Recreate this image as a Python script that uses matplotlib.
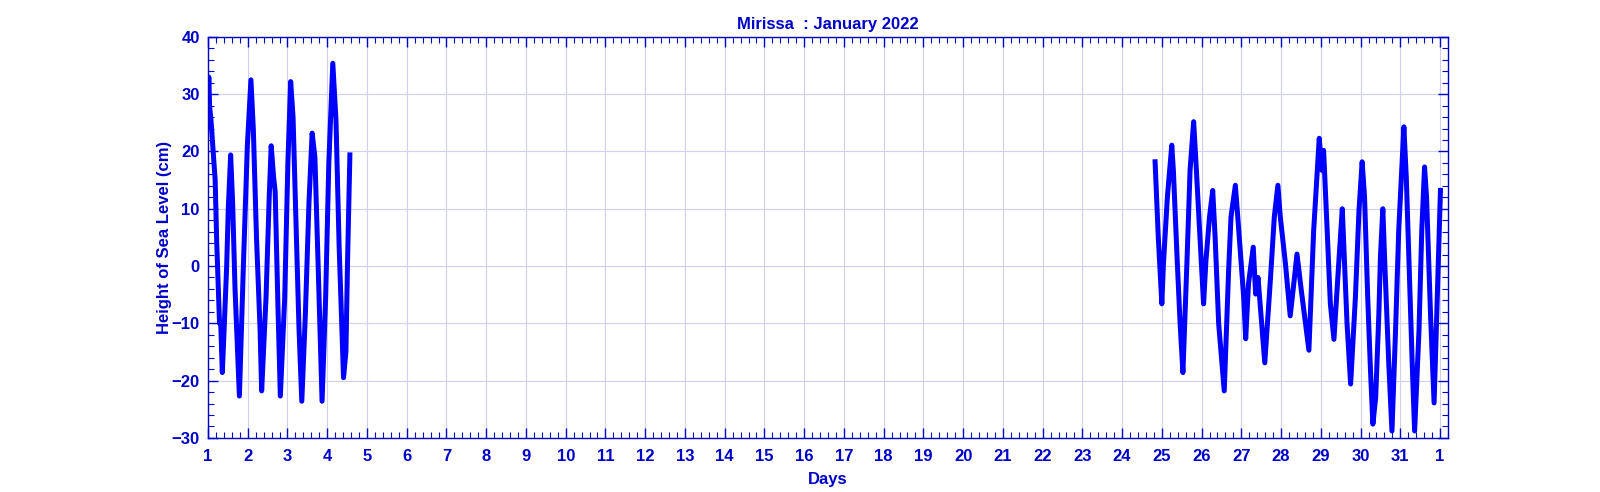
import matplotlib
matplotlib.use("Agg")
import matplotlib.pyplot as plt
from matplotlib.ticker import MultipleLocator

# sea level record, first part of the month (day of month, cm)
days_a = [1.00, 1.02, 1.04, 1.08, 1.18, 1.22, 1.26, 1.29, 1.32, 1.36,
          1.40, 1.47, 1.51, 1.57, 1.62, 1.68, 1.79, 1.89, 1.99, 2.08,
          2.14, 2.22, 2.31, 2.35, 2.46, 2.54, 2.59, 2.65, 2.69, 2.76,
          2.82, 2.93, 3.01, 3.08, 3.14, 3.21, 3.29, 3.36, 3.45, 3.54,
          3.62, 3.69, 3.77, 3.87, 3.96, 4.04, 4.14, 4.22, 4.30, 4.41,
          4.47, 4.51, 4.57]
level_a = [27, 33, 28, 25, 15, 4, -4, -10, -10, -18.6,
           -12, 0, 10, 19.4, 11, -4, -22.7, 0, 21, 32.5,
           24, 5, -11, -21.8, -5.5, 12, 21, 15.6, 13, -7,
           -22.7, -5.5, 18, 32.2, 26, 8.6, -11, -23.6, -8.4, 11,
           23.2, 19, 0.4, -23.6, -5.5, 18, 35.4, 25.5, 3.3, -19.5,
           -15, 0.4, 19.4]

# end of the month
days_b = [24.83, 24.91, 25.00, 25.04, 25.14, 25.25, 25.29, 25.39, 25.46, 25.53,
          25.63, 25.71, 25.80, 25.86, 25.95, 26.05, 26.11, 26.20, 26.28, 26.34,
          26.43, 26.57, 26.68, 26.74, 26.85, 26.91, 27.06, 27.11, 27.18, 27.30,
          27.36, 27.42, 27.59, 27.73, 27.83, 27.92, 27.98, 28.11, 28.23, 28.32,
          28.40, 28.51, 28.70, 28.82, 28.96, 29.03, 29.07, 29.16, 29.24, 29.33,
          29.45, 29.54, 29.58, 29.66, 29.75, 29.87, 29.96, 30.04, 30.10, 30.18,
          30.25, 30.31, 30.38, 30.46, 30.50, 30.56, 30.61, 30.71, 30.79, 30.88,
          30.96, 31.09, 31.15, 31.22, 31.30, 31.36, 31.47, 31.54, 31.61, 31.66,
          31.76, 31.85, 31.93, 32.01]
level_b = [18.2, 5.1, -6.6, 0.4, 12.1, 21.1, 16.7, 0.4, -10.1, -18.6,
           0.4, 16.7, 25.2, 17.9, 6.2, -6.6, 1.0, 8.6, 13.2, 5.1,
           -10.1, -21.8, -0.8, 8.6, 14.1, 8.6, -5.5, -12.7, -3.1, 3.3,
           -4.9, -2.0, -16.9, -2.5, 8.6, 14.1, 8.6, 0.4, -8.7, -3.1,
           2.1, -4.3, -14.7, 6.2, 22.3, 16.7, 20.2, 6.2, -6.6, -12.8,
           0.4, 10.0, 3.3, -10.1, -20.6, -5.5, 9.7, 18.2, 12.1, -5.5,
           -18.3, -27.6, -23.0, -8.4, 1.6, 10.0, 0.4, -17.1, -28.8, -11.3,
           6.2, 24.3, 15.6, 0.4, -17.1, -28.8, -11.3, 6.2, 17.3, 12.1,
           -8.4, -23.9, -5.5, 13.2]

tick_days = list(range(1, 33))
tick_labels = [str(d) for d in range(1, 32)] + ["1"]

plt.rcParams["font.family"] = ["Liberation Sans Narrow", "Liberation Sans", "DejaVu Sans"]

blue = "#0000ff"
dark = "#0000c8"

fig = plt.figure(figsize=(16, 4.92), dpi=100)
ax = fig.add_axes([0.13, 0.11, 0.775, 0.815])

ax.plot(days_a, level_a, color=blue, lw=3.6)
ax.plot(days_b, level_b, color=blue, lw=3.6)

ax.set_xlim(1, 32.2)
ax.set_ylim(-30, 40)
ax.set_xticks(tick_days)
ax.set_xticklabels(tick_labels)
ax.xaxis.set_minor_locator(MultipleLocator(0.2))
ax.yaxis.set_major_locator(MultipleLocator(10))
ax.yaxis.set_minor_locator(MultipleLocator(2))
ax.grid(True, which="major", color="#d0d0f4", lw=0.8)
ax.set_axisbelow(True)

ax.tick_params(which="both", direction="in", top=True, right=True,
               colors=dark, labelcolor=dark, labelsize=12)
ax.tick_params(which="major", length=7, width=1)
ax.tick_params(which="minor", length=4, width=0.8)
ax.tick_params(axis="x", which="major", pad=8)
ax.tick_params(axis="y", which="major", pad=6)
for lab in ax.get_xticklabels() + ax.get_yticklabels():
    lab.set_fontweight("bold")
for s in ax.spines.values():
    s.set_color(dark)
    s.set_linewidth(1)

ax.set_title("Mirissa  : January 2022", color=dark, fontsize=12, fontweight="bold", pad=6)
ax.set_xlabel("Days", color=dark, fontsize=12, fontweight="bold", labelpad=6)
ax.set_ylabel("Height of Sea Level (cm)", color=dark, fontsize=12, fontweight="bold", labelpad=0)

fig.savefig("out.png", dpi=100)
